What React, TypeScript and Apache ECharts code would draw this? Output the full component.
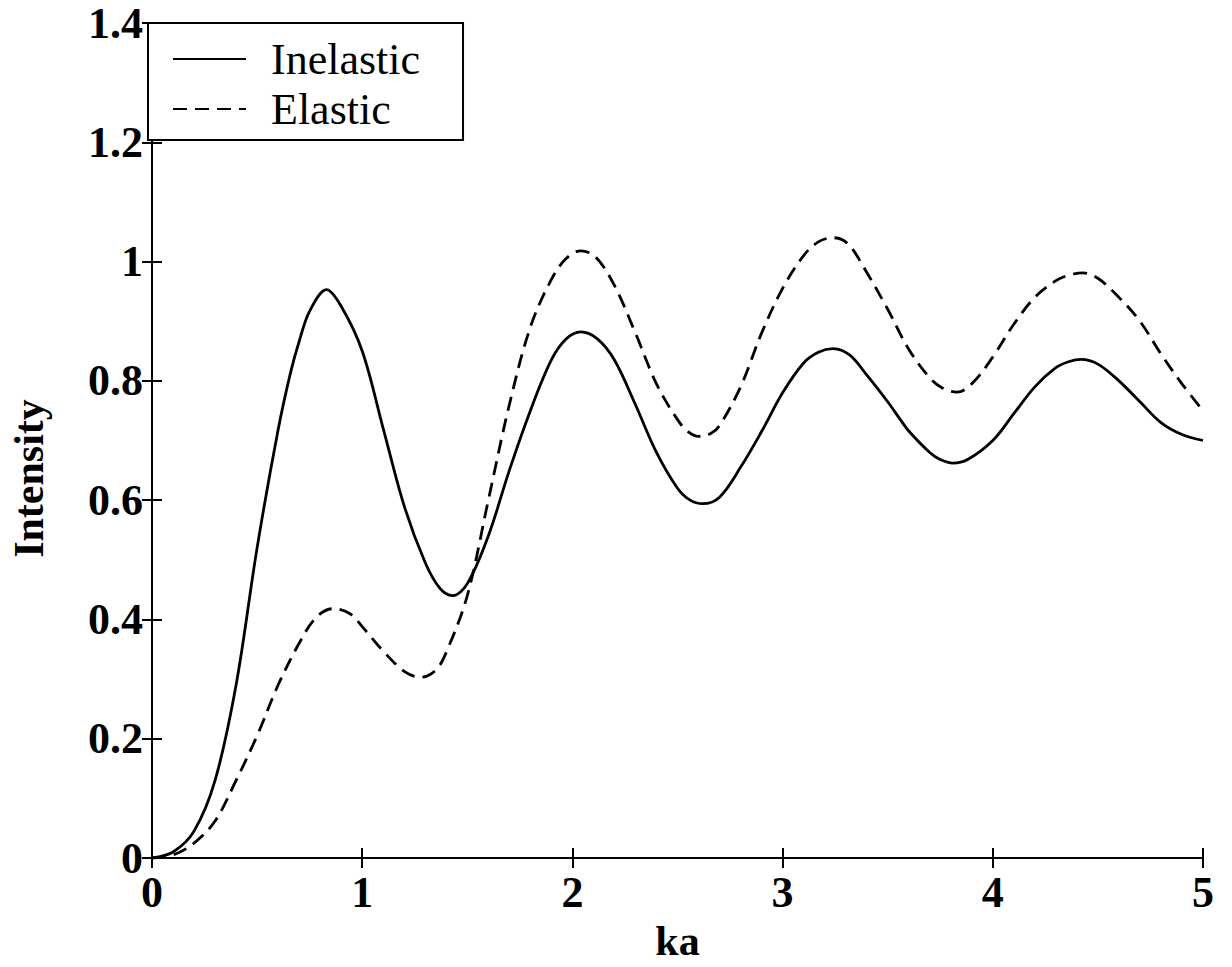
import React, { useEffect, useRef } from "react";
import * as echarts from "echarts";

const inelasticKa = [
  0, 0.1, 0.2, 0.3, 0.4, 0.5, 0.6, 0.66, 0.7, 0.75, 0.83, 0.9, 1.0, 1.1, 1.2, 1.3, 1.37, 1.43, 1.5, 1.6, 1.7, 1.8, 1.9,
  1.97, 2.04, 2.12, 2.2, 2.3, 2.4, 2.5, 2.56, 2.62, 2.7, 2.8, 2.9, 3.0, 3.1, 3.17, 3.24, 3.32, 3.4, 3.5, 3.56, 3.6, 3.7,
  3.75, 3.81, 3.88, 4.0, 4.1, 4.2, 4.3, 4.36, 4.42, 4.5, 4.6, 4.7, 4.8, 4.9, 5.0,
];
const inelasticIntensity = [
  0, 0.01, 0.045, 0.13, 0.29, 0.52, 0.718, 0.815, 0.866, 0.917, 0.953, 0.925, 0.85, 0.72, 0.59, 0.495, 0.452, 0.44, 0.46, 0.54, 0.65, 0.75, 0.835,
  0.87, 0.882, 0.87, 0.835, 0.76, 0.68, 0.62, 0.6, 0.594, 0.605, 0.655, 0.715, 0.78, 0.83, 0.848, 0.854, 0.843, 0.81, 0.765, 0.735, 0.716, 0.68,
  0.668, 0.662, 0.668, 0.7, 0.745, 0.79, 0.822, 0.832, 0.836, 0.828, 0.8, 0.765, 0.73, 0.71, 0.7,
];

const elasticKa = [
  0, 0.1, 0.2, 0.3, 0.4, 0.5, 0.6, 0.7, 0.78, 0.86, 0.94, 1.0, 1.1, 1.2, 1.28, 1.35, 1.4, 1.5, 1.6, 1.7, 1.8, 1.9,
  1.97, 2.04, 2.11, 2.2, 2.3, 2.4, 2.5, 2.55, 2.6, 2.66, 2.7, 2.8, 2.9, 3.0, 3.1, 3.17, 3.24, 3.31, 3.4, 3.5, 3.6, 3.7,
  3.76, 3.83, 3.9, 4.0, 4.1, 4.2, 4.3, 4.36, 4.43, 4.5, 4.6, 4.7, 4.8, 4.9, 5.0,
];
const elasticIntensity = [
  0, 0.005, 0.025, 0.062, 0.13, 0.205, 0.29, 0.36, 0.403, 0.418, 0.41, 0.388, 0.347, 0.313, 0.303, 0.315, 0.345, 0.44, 0.6, 0.76, 0.89, 0.97,
  1.005, 1.018, 1.008, 0.96, 0.88, 0.795, 0.735, 0.715, 0.707, 0.712, 0.725, 0.79, 0.88, 0.955, 1.01, 1.033, 1.04, 1.03, 0.982, 0.92, 0.853, 0.805,
  0.788, 0.781, 0.795, 0.84, 0.895, 0.94, 0.968, 0.977, 0.981, 0.972, 0.94, 0.9, 0.845, 0.795, 0.75,
];

const seriesNames = ["Inelastic", "Elastic"];
const xTicks = [0, 1, 2, 3, 4, 5];
const yTicks = [0, 0.2, 0.4, 0.6, 0.8, 1, 1.2, 1.4];

const FONT = "'Liberation Serif', 'Times New Roman', serif";

export default function App() {
  const ref = useRef<HTMLDivElement>(null);

  useEffect(() => {
    if (!ref.current) return;
    const chart = echarts.init(ref.current, undefined, { renderer: "svg" });
    const toPairs = (xs: number[], ys: number[]) => xs.map((x, i) => [x, ys[i]]);
    const axisLine = { show: true, lineStyle: { color: "#000", width: 2 } };
    const tickStyle = { show: true, inside: true, length: 10, lineStyle: { color: "#000", width: 2 } };
    const labelStyle = {
      color: "#000",
      fontFamily: FONT,
      fontWeight: "bold" as const,
      fontSize: 44,
    };
    chart.setOption({
      animation: false,
      backgroundColor: "#fff",
      grid: { left: 149, right: 29, top: 23, bottom: 109, containLabel: false },
      legend: {
        orient: "vertical",
        left: 148,
        top: 23,
        data: seriesNames,
        itemWidth: 73,
        itemHeight: 20,
        itemGap: 6,
        padding: [14, 43, 9, 24],
        borderColor: "#000",
        borderWidth: 2,
        backgroundColor: "#fff",
        itemStyle: { opacity: 0 },
        textStyle: {
          color: "#000",
          fontFamily: FONT,
          fontSize: 44,
          lineHeight: 44,
          padding: [0, 0, 0, 20],
        },
      },
      xAxis: [
        {
          type: "value",
          min: 0,
          max: 5,
          interval: 1,
          name: "ka",
          nameLocation: "middle",
          nameGap: 62,
          nameTextStyle: { ...labelStyle, fontSize: 42 },
          axisLine,
          axisTick: tickStyle,
          axisLabel: { ...labelStyle, margin: 12, formatter: (v: number) => (xTicks.includes(v) ? String(v) : "") },
          splitLine: { show: false },
        },
        {
          type: "value",
          position: "top",
          min: 0,
          max: 5,
          interval: 1,
          axisLine,
          axisTick: tickStyle,
          axisLabel: { show: false },
          splitLine: { show: false },
        },
      ],
      yAxis: [
        {
          type: "value",
          min: 0,
          max: 1.4,
          interval: 0.2,
          name: "Intensity",
          nameLocation: "middle",
          nameGap: 102,
          nameTextStyle: { ...labelStyle, fontSize: 42, padding: [0, 76, 0, 0] },
          axisLine,
          axisTick: tickStyle,
          axisLabel: {
            ...labelStyle,
            margin: 9,
            formatter: (v: number) => {
              const r = Math.round(v * 10) / 10;
              return yTicks.includes(r) ? String(r) : "";
            },
          },
          splitLine: { show: false },
        },
        {
          type: "value",
          position: "right",
          min: 0,
          max: 1.4,
          interval: 0.2,
          axisLine,
          axisTick: tickStyle,
          axisLabel: { show: false },
          splitLine: { show: false },
        },
      ],
      series: [
        {
          name: seriesNames[0],
          type: "line",
          data: toPairs(inelasticKa, inelasticIntensity),
          smooth: 0.35,
          showSymbol: false,
          symbol: "none",
          lineStyle: { color: "#000", width: 2.8, type: "solid" },
          itemStyle: { color: "#000" },
        },
        {
          name: seriesNames[1],
          type: "line",
          data: toPairs(elasticKa, elasticIntensity),
          smooth: 0.35,
          showSymbol: false,
          symbol: "none",
          lineStyle: { color: "#000", width: 2.8, type: [14, 8] },
          itemStyle: { color: "#000" },
        },
      ],
    });
    return () => chart.dispose();
  }, []);

  return (
    <div
      ref={ref}
      style={{ position: "fixed", left: 0, top: 0, width: 1232, height: 967, background: "#fff" }}
    />
  );
}
